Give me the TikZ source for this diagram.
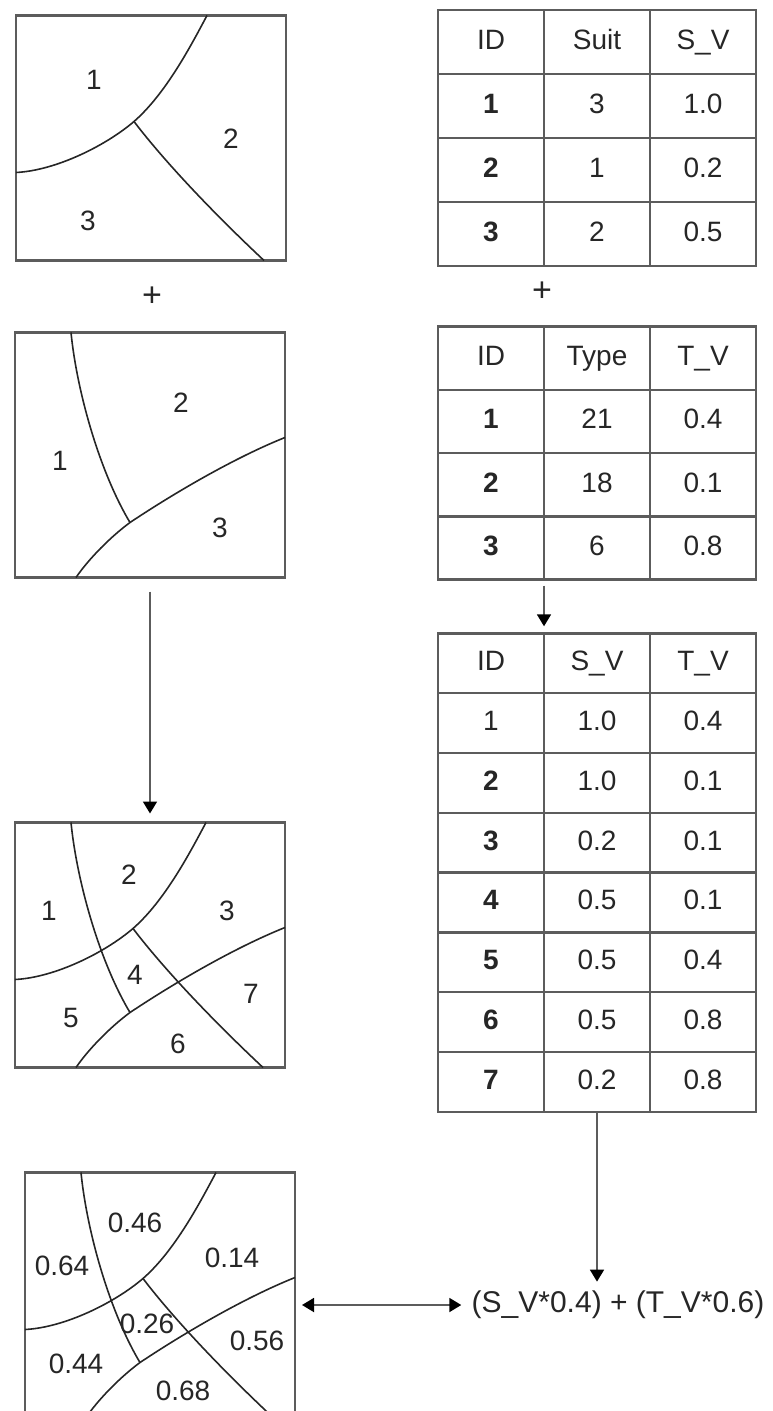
\documentclass[tikz,border=0pt]{standalone}
\usepackage{fontspec}
\setmainfont{Liberation Sans}
\usetikzlibrary{arrows.meta,matrix,calc}
\definecolor{encre}{HTML}{262626}
\definecolor{trait}{HTML}{5C5C5C}
\newcommand{\zonesS}{%
  \draw[zone] (0,157) .. controls (40,155) and (90,130) .. (118,106) .. controls (150,78) and (175,30) .. (191,0);
  \draw[zone] (118,106) .. controls (150,148) and (200,200) .. (248,245);}
\newcommand{\zonesT}{%
  \draw[zone] (56,0) .. controls (62,60) and (85,140) .. (115,190);
  \draw[zone] (61,245) .. controls (74,226) and (96,204) .. (115,190) .. controls (160,160) and (220,125) .. (270,105);}
\tikzset{
  carte/.style={rectangle, draw=trait, line width=1.4pt, inner sep=0pt, outer sep=0pt,
                minimum width=135pt, minimum height=122.5pt},
  zone/.style={draw=encre, line width=0.8pt},
  lbl/.style={font=\fontsize{14}{16}\selectfont, text=encre, inner sep=1pt},
  tabl/.style={matrix of nodes, row sep=-1.2pt, column sep=-1.2pt,
               nodes={rectangle, draw=trait, line width=1.2pt, outer sep=0pt, inner sep=0pt,
                      anchor=center, text height=10.5pt, text depth=3pt,
                      minimum width=53pt, minimum height=#1, font=\fontsize{14}{16}\selectfont, text=encre}},
  arr/.style={-{Triangle[length=6pt,width=7pt,color=black]}, line width=0.9pt, draw=trait},
  arr2/.style={{Triangle[length=6pt,width=7pt,color=black]}-{Triangle[length=6pt,width=7pt,color=black]},
               line width=0.9pt, draw=trait},
}
\begin{document}
\begin{tikzpicture}[x=0.5pt, y=-0.5pt]
  \useasboundingbox (0,0) rectangle (772,1411);
  \node[carte] (map1) at (151,138) {};
  \node[carte] (map2) at (150,455) {};
  \node[carte] (map3) at (150,945) {};
  \node[carte] (map4) at (160,1295) {};
  \begin{scope}[shift={(map1.north west)}]
    \zonesS
    \foreach \t/\x/\y in {1/78/64, 2/215/123, 3/72/205}
      \node[lbl] (s\t) at (\x,\y) {\t};
  \end{scope}
  \begin{scope}[shift={(map2.north west)}]
    \zonesT
    \foreach \t/\x/\y in {1/45/128, 2/166/70, 3/205/195}
      \node[lbl] (t\t) at (\x,\y) {\t};
  \end{scope}
  \begin{scope}[shift={(map3.north west)}]
    \zonesS \zonesT
    \foreach \t/\x/\y in {1/34/88, 2/114/52, 3/212/88, 4/120/152, 5/56/195, 6/163/221, 7/236/171}
      \node[lbl] (u\t) at (\x,\y) {\t};
  \end{scope}
  \begin{scope}[shift={(map4.north west)}]
    \zonesS \zonesT
    \foreach \t/\x/\y [count=\i] in {0.64/37/93, 0.46/110/50, 0.14/207/85, 0.26/122/151,
                                      0.44/51/191, 0.68/158/218, 0.56/232/168}
      \node[lbl] (r\i) at (\x,\y) {\t};
  \end{scope}
  \node[lbl, font=\fontsize{17}{18}\selectfont] (plusS) at (152,297) {+};
  \node[lbl, font=\fontsize{17}{18}\selectfont] (plusT) at (542,292) {+};
  \matrix (suit) [tabl=32pt] at (597,138) {
    ID & Suit & S\_V \\
    \textbf{1} & 3 & 1.0 \\
    \textbf{2} & 1 & 0.2 \\
    \textbf{3} & 2 & 0.5 \\
  };
  \matrix (type) [tabl=31.65pt] at (597,453) {
    ID & Type & T\_V \\
    \textbf{1} & 21 & 0.4 \\
    \textbf{2} & 18 & 0.1 \\
    \textbf{3} & 6 & 0.8 \\
  };
  \matrix (val) [tabl=29.9pt] at (597,872.5) {
    ID & S\_V & T\_V \\
    1 & 1.0 & 0.4 \\
    \textbf{2} & 1.0 & 0.1 \\
    \textbf{3} & 0.2 & 0.1 \\
    \textbf{4} & 0.5 & 0.1 \\
    \textbf{5} & 0.5 & 0.4 \\
    \textbf{6} & 0.5 & 0.8 \\
    \textbf{7} & 0.2 & 0.8 \\
  };
  \node[lbl, font=\fontsize{15}{18}\selectfont] (rule) at (618,1305) {(S\_V*0.4) + (T\_V*0.6)};
  \draw[arr, shorten <=7pt, shorten >=4.5pt] (map2.south) -- (map2.south |- map3.north);
  \draw[arr, shorten <=3pt, shorten >=3.5pt] (type-4-2.south west) -- (val-1-2.north west);
  \draw[arr, shorten >=3.5pt] (val-8-2.south) -- (val-8-2.south |- rule.north);
  \draw[arr2, shorten <=3.5pt, shorten >=4pt] (map4.east |- rule.west) -- (rule.west);
\end{tikzpicture}
\end{document}
